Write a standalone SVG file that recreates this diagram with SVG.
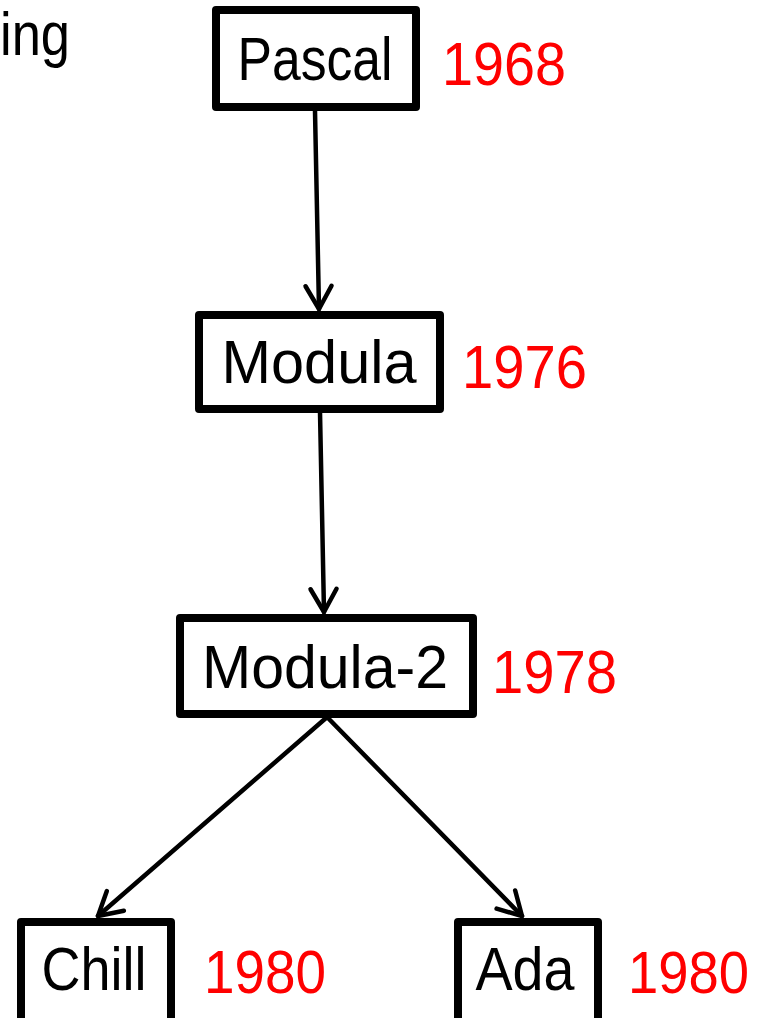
<svg xmlns="http://www.w3.org/2000/svg" width="760" height="1018" viewBox="0 0 760 1018">
  <style>
    .box { fill: #ffffff; stroke: #000000; stroke-width: 8; stroke-linejoin: round; }
    .name { font-family: "Liberation Sans", Arial, sans-serif; font-size: 61px; fill: #000000; text-anchor: middle; }
    .year { font-family: "Liberation Sans", Arial, sans-serif; font-size: 61px; fill: #ff0000; }
    .edge { fill: none; stroke: #000000; stroke-width: 4.5; stroke-linecap: round; }
  </style>
  <defs>
    <marker id="arrow" markerUnits="userSpaceOnUse" markerWidth="40" markerHeight="40" viewBox="-30 -20 40 40" refX="0" refY="0" orient="auto">
      <path d="M-23,-13 L0,0 L-23,13" fill="none" stroke="#000000" stroke-width="4.5" stroke-linecap="round" stroke-linejoin="round"/>
    </marker>
  </defs>
  <rect width="760" height="1018" fill="#ffffff"/>

  <!-- heading fragment at top left -->
  <text x="70" y="55" class="name" style="text-anchor:end" textLength="70" lengthAdjust="spacingAndGlyphs">ing</text>

  <!-- connectors -->
  <g id="connectors">
    <line class="edge" x1="315" y1="111" x2="319" y2="309" marker-end="url(#arrow)"/>
    <line class="edge" x1="320" y1="412" x2="324" y2="612" marker-end="url(#arrow)"/>
    <line class="edge" x1="326" y1="718" x2="98" y2="916" marker-end="url(#arrow)"/>
    <line class="edge" x1="328" y1="718" x2="522" y2="916" marker-end="url(#arrow)"/>
  </g>

  <g id="node-pascal">
    <rect class="box" x="216" y="10" width="200" height="97"/>
    <text class="name" x="315" y="80" textLength="155" lengthAdjust="spacingAndGlyphs">Pascal</text>
    <text class="year" x="442" y="85" textLength="124" lengthAdjust="spacingAndGlyphs">1968</text>
  </g>

  <g id="node-modula">
    <rect class="box" x="199" y="315" width="241" height="94"/>
    <text class="name" x="319" y="383" textLength="195" lengthAdjust="spacingAndGlyphs">Modula</text>
    <text class="year" x="462" y="388" textLength="125" lengthAdjust="spacingAndGlyphs">1976</text>
  </g>

  <g id="node-modula-2">
    <rect class="box" x="180" y="618" width="293" height="96"/>
    <text class="name" x="325" y="688" textLength="246" lengthAdjust="spacingAndGlyphs">Modula-2</text>
    <text class="year" x="492" y="693" textLength="125" lengthAdjust="spacingAndGlyphs">1978</text>
  </g>

  <g id="node-chill">
    <rect class="box" x="21" y="922" width="150" height="110"/>
    <text class="name" x="94" y="990" textLength="105" lengthAdjust="spacingAndGlyphs">Chill</text>
    <text class="year" x="204" y="993" textLength="122" lengthAdjust="spacingAndGlyphs">1980</text>
  </g>

  <g id="node-ada">
    <rect class="box" x="458" y="922" width="140" height="110"/>
    <text class="name" x="525" y="990" textLength="99" lengthAdjust="spacingAndGlyphs">Ada</text>
    <text class="year" x="628" y="993" style="font-size:59px" textLength="121" lengthAdjust="spacingAndGlyphs">1980</text>
  </g>
</svg>
